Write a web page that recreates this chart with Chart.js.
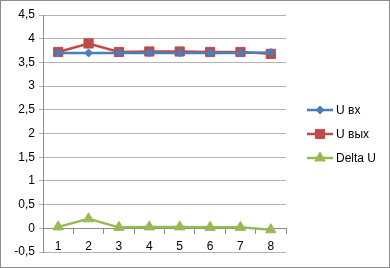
<!DOCTYPE html>
<html>
<head>
<meta charset="utf-8">
<script src="https://cdn.jsdelivr.net/npm/chart.js@4/dist/chart.umd.min.js"></script>
<style>
  html, body { margin: 0; padding: 0; background: #fff; }
  #wrap { width: 390px; height: 268px; }
</style>
</head>
<body>
<div id="wrap"><canvas id="c" width="390" height="268"></canvas></div>
<script>
var categories = ['1', '2', '3', '4', '5', '6', '7', '8'];
var uIn = [3.7, 3.7, 3.7, 3.7, 3.7, 3.7, 3.7, 3.71];
var uOut = [3.72, 3.9, 3.72, 3.73, 3.73, 3.72, 3.72, 3.68];
var deltaU = [0.03, 0.2, 0.02, 0.03, 0.03, 0.02, 0.02, -0.03];
var seriesNames = ['U вх', 'U вых', 'Delta U'];

var fontFamily = "'Liberation Sans', Arial, sans-serif";

// frame + legend drawn by hand, like the office chart
var framePlugin = {
  id: 'frame',
  beforeDraw: function(chart){
    var ctx = chart.ctx;
    ctx.save();
    ctx.fillStyle = '#fff';
    ctx.fillRect(0, 0, chart.width, chart.height);
    ctx.restore();
  },
  afterDraw: function(chart){
    var ctx = chart.ctx;
    ctx.save();
    ctx.strokeStyle = '#8c8c8c';
    ctx.lineWidth = 1;
    ctx.strokeRect(0.5, 0.5, chart.width - 1, chart.height - 1);

    var rows = [110, 134, 158];
    chart.data.datasets.forEach(function(ds, i){
      var y = rows[i];
      ctx.strokeStyle = ds.borderColor;
      ctx.lineWidth = 2.5;
      ctx.beginPath();
      ctx.moveTo(307, y);
      ctx.lineTo(333, y);
      ctx.stroke();
      ctx.fillStyle = ds.backgroundColor;
      ctx.strokeStyle = ds.borderColor;
      ctx.lineWidth = 1;
      Chart.helpers.drawPoint(ctx, {
        pointStyle: ds.pointStyle, radius: ds.pointRadius, rotation: 0, borderWidth: 1
      }, 320, y);
      ctx.fillStyle = '#000';
      ctx.font = '12px ' + fontFamily;
      ctx.textBaseline = 'middle';
      ctx.fillText(ds.label, 336, y + 1);
    });
    ctx.restore();
  }
};

new Chart(document.getElementById('c').getContext('2d'), {
  type: 'line',
  data: {
    labels: categories,
    datasets: [
      { label: seriesNames[0], data: uIn, borderColor: '#4a7ebb', backgroundColor: '#4a7ebb',
        borderWidth: 2.5, pointStyle: 'rectRot', pointRadius: 4, pointBorderWidth: 1 },
      { label: seriesNames[1], data: uOut, borderColor: '#be4b48', backgroundColor: '#be4b48',
        borderWidth: 2.5, pointStyle: 'rect', pointRadius: 6.5, pointBorderWidth: 1 },
      { label: seriesNames[2], data: deltaU, borderColor: '#98b954', backgroundColor: '#98b954',
        borderWidth: 2.5, pointStyle: 'triangle', pointRadius: 6, pointBorderWidth: 1 }
    ]
  },
  options: {
    responsive: false,
    animation: false,
    layout: { padding: { left: 0, right: 104, top: 15, bottom: 16 } },
    plugins: { legend: { display: false }, tooltip: { enabled: false } },
    scales: {
      x: {
        position: { y: 0 },
        offset: true,
        grid: { display: true, drawOnChartArea: false, drawTicks: true, tickLength: 5,
                offset: true, color: '#8c8c8c' },
        border: { display: true, color: '#8c8c8c', width: 1 },
        ticks: { color: '#000', font: { family: fontFamily, size: 12 }, padding: 6 }
      },
      y: {
        min: -0.5,
        max: 4.5,
        afterFit: function(scale){ scale.width = 43; },
        ticks: {
          stepSize: 0.5,
          color: '#000',
          padding: 4,
          font: { family: fontFamily, size: 12 },
          callback: function(v){ return String(Math.round(v * 10) / 10).replace('.', ','); }
        },
        grid: { color: '#b3b3b3', tickLength: 4 },
        border: { display: true, color: '#8c8c8c' }
      }
    }
  },
  plugins: [framePlugin]
});
</script>
</body>
</html>
